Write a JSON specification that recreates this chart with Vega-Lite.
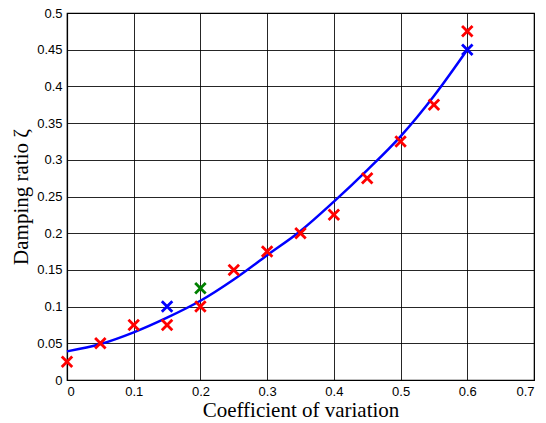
{
  "$schema": "https://vega.github.io/schema/vega-lite/v6.json",
  "width": 467,
  "height": 367,
  "autosize": "none",
  "padding": {"left": 67, "top": 13, "right": 12, "bottom": 43},
  "background": "white",
  "config": {
    "view": {"stroke": "#000", "strokeWidth": 1.2},
    "axis": {
      "labelFont": "Liberation Sans",
      "labelFontSize": 13,
      "labelColor": "#000",
      "labelOverlap": false,
      "titleFont": "Liberation Serif",
      "titleFontSize": 21,
      "titleFontWeight": "normal",
      "titleColor": "#000",
      "grid": true,
      "gridColor": "#000",
      "gridOpacity": 0.85,
      "gridWidth": 1,
      "domainColor": "#000",
      "domainWidth": 1.2,
      "ticks": false,
      "labelPadding": 5,
      "format": "~g"
    }
  },
  "datasets": {
    "fit": [
      {"cv": 0.0, "zeta": 0.039},
      {"cv": 0.05, "zeta": 0.049},
      {"cv": 0.1, "zeta": 0.065},
      {"cv": 0.15, "zeta": 0.085},
      {"cv": 0.2, "zeta": 0.108},
      {"cv": 0.25, "zeta": 0.137},
      {"cv": 0.3, "zeta": 0.17},
      {"cv": 0.35, "zeta": 0.203},
      {"cv": 0.4, "zeta": 0.243},
      {"cv": 0.45, "zeta": 0.286},
      {"cv": 0.5, "zeta": 0.332},
      {"cv": 0.55, "zeta": 0.387},
      {"cv": 0.6, "zeta": 0.45}
    ],
    "pts": [
      {"cv": 0.0, "zeta": 0.025, "s": "red"},
      {"cv": 0.05, "zeta": 0.05, "s": "red"},
      {"cv": 0.1, "zeta": 0.075, "s": "red"},
      {"cv": 0.15, "zeta": 0.075, "s": "red"},
      {"cv": 0.2, "zeta": 0.1, "s": "red"},
      {"cv": 0.25, "zeta": 0.15, "s": "red"},
      {"cv": 0.3, "zeta": 0.175, "s": "red"},
      {"cv": 0.35, "zeta": 0.2, "s": "red"},
      {"cv": 0.4, "zeta": 0.225, "s": "red"},
      {"cv": 0.45, "zeta": 0.275, "s": "red"},
      {"cv": 0.5, "zeta": 0.325, "s": "red"},
      {"cv": 0.55, "zeta": 0.375, "s": "red"},
      {"cv": 0.6, "zeta": 0.475, "s": "red"},
      {"cv": 0.15, "zeta": 0.1, "s": "blue"},
      {"cv": 0.6, "zeta": 0.45, "s": "blue"},
      {"cv": 0.2, "zeta": 0.125, "s": "green"}
    ]
  },
  "encoding": {
    "x": {"field": "cv", "type": "quantitative", "scale": {"domain": [0, 0.7], "nice": false},
      "axis": {"values": [0, 0.1, 0.2, 0.3, 0.4, 0.5, 0.6, 0.7], "title": "Coefficient of variation", "titlePadding": 1}},
    "y": {"field": "zeta", "type": "quantitative", "scale": {"domain": [0, 0.5], "nice": false},
      "axis": {"values": [0, 0.05, 0.1, 0.15, 0.2, 0.25, 0.3, 0.35, 0.4, 0.45, 0.5], "title": "Damping ratio ζ", "titlePadding": 5}}
  },
  "layer": [
    {
      "data": {"name": "fit"},
      "mark": {"type": "line", "color": "#0000ff", "strokeWidth": 2.5, "interpolate": "monotone"}
    },
    {
      "data": {"name": "pts"},
      "mark": {"type": "point", "shape": "M-1,-1L1,1M-1,1L1,-1", "size": 110, "strokeWidth": 2.8, "filled": false, "opacity": 1},
      "encoding": {
        "color": {"field": "s", "type": "nominal", "scale": {"domain": ["red", "blue", "green"], "range": ["#ff0000", "#0000ff", "#008000"]}, "legend": null}
      }
    }
  ]
}
